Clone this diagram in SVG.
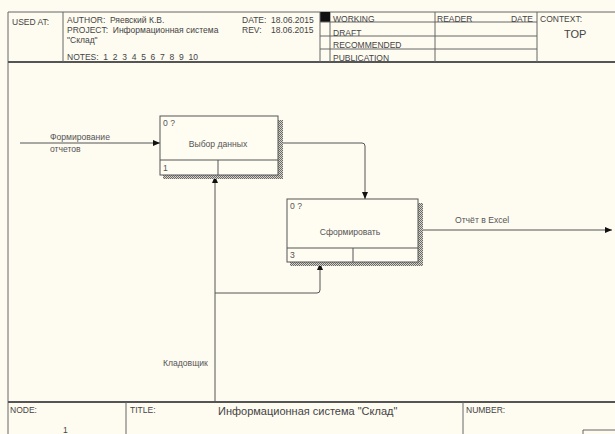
<svg xmlns="http://www.w3.org/2000/svg" width="615" height="434" viewBox="0 0 615 434">
<defs>
<style>
.t{font-family:"Liberation Sans",Arial,sans-serif;font-size:8.6px;fill:#555}
.h{font-family:"Liberation Sans",Arial,sans-serif;font-size:8.5px;fill:#444;white-space:pre}
.fr{stroke:#666;stroke-width:1;fill:none}
.thk{stroke:#555;stroke-width:2;fill:none}
.box{fill:#fffcf2;stroke:#555;stroke-width:1}
.ln{stroke:#555;stroke-width:1;fill:none}
.sh{fill:url(#hatch)}
</style>
<pattern id="hatch" width="2" height="2" patternUnits="userSpaceOnUse">
<rect width="2" height="2" fill="#d8d4c8"/>
<rect width="1" height="1" fill="#6a6a6a"/>
<rect x="1" y="1" width="1" height="1" fill="#6a6a6a"/>
</pattern>
<marker id="ah" markerWidth="7" markerHeight="6" refX="7" refY="3" orient="auto" markerUnits="userSpaceOnUse">
<path d="M0,0 L7,3 L0,6 Z" fill="#111"/>
</marker>
</defs>
<rect width="615" height="434" fill="#fefbf1"/>
<g id="header">
<line class="fr" x1="8" y1="12" x2="615" y2="12"/>
<line class="fr" x1="8" y1="12" x2="8" y2="434"/>
<line class="thk" x1="8" y1="62" x2="615" y2="62"/>
<line class="fr" x1="63" y1="12" x2="63" y2="62"/>
<line class="fr" x1="330" y1="12" x2="330" y2="62"/>
<rect x="320" y="12" width="10" height="10" fill="#111"/>
<line class="fr" x1="435" y1="12" x2="435" y2="62"/>
<line class="fr" x1="537" y1="12" x2="537" y2="62"/>
<line class="fr" x1="320" y1="22" x2="537" y2="22"/>
<line class="fr" x1="320" y1="36" x2="537" y2="36"/>
<line class="fr" x1="320" y1="49" x2="537" y2="49"/>
<line class="fr" x1="320" y1="12" x2="320" y2="62"/>
<text class="h" x="12" y="25">USED AT:</text>
<text class="h" x="67" y="23" xml:space="preserve">AUTHOR:  Ряевский К.В.</text>
<text class="h" x="67" y="33" xml:space="preserve">PROJECT:  Информационная система</text>
<text class="h" x="67" y="43">"Склад"</text>
<text class="h" x="67" y="60" xml:space="preserve">NOTES:  1  2  3  4  5  6  7  8  9  10</text>
<text class="h" x="242" y="23" xml:space="preserve">DATE:  18.06.2015</text>
<text class="h" x="242" y="33" xml:space="preserve">REV:    18.06.2015</text>
<text class="h" x="333" y="22">WORKING</text>
<text class="h" x="333" y="36">DRAFT</text>
<text class="h" x="333" y="48">RECOMMENDED</text>
<text class="h" x="333" y="61">PUBLICATION</text>
<text class="h" x="437" y="22">READER</text>
<text class="h" x="533" y="22" text-anchor="end">DATE</text>
<text class="h" x="540" y="22">CONTEXT:</text>
<text class="h" x="564" y="38" style="font-size:11px">TOP</text>
</g>
<g id="footer">
<line class="thk" x1="8" y1="402" x2="615" y2="402"/>
<line class="fr" x1="126" y1="402" x2="126" y2="434"/>
<line class="fr" x1="463" y1="402" x2="463" y2="434"/>
<path class="fr" d="M583,434 V430 H615"/>
<text class="h" x="10" y="413">NODE:</text>
<text class="h" x="63" y="433">1</text>
<text class="h" x="130" y="413">TITLE:</text>
<text class="h" x="218" y="415" style="font-size:11px">Информационная система "Склад"</text>
<text class="h" x="466" y="413">NUMBER:</text>
</g>
<g id="connectors">
<line class="ln" x1="20" y1="143" x2="160" y2="143" marker-end="url(#ah)"/>
<path class="ln" d="M278,143 H362 Q365,143 365,146 V199" marker-end="url(#ah)"/>
<line class="ln" x1="423" y1="230" x2="612" y2="230" marker-end="url(#ah)"/>
<line class="ln" x1="215" y1="402" x2="215" y2="176" marker-end="url(#ah)"/>
<path class="ln" d="M215,293 H317 Q320,293 320,290 V263" marker-end="url(#ah)"/>
<text class="t" x="50" y="140">Формирование</text>
<text class="t" x="50" y="152">отчетов</text>
<text class="t" x="455" y="223">Отчёт в Excel</text>
<text class="t" x="163" y="366">Кладовщик</text>
</g>
<g id="node1">
<rect class="sh" x="278" y="120" width="5" height="59"/>
<rect class="sh" x="163" y="175" width="120" height="4"/>
<rect class="box" x="160" y="116" width="118" height="59"/>
<line class="ln" x1="160" y1="160" x2="278" y2="160"/>
<line class="ln" x1="218" y1="160" x2="218" y2="175"/>
<text class="t" x="163" y="126">0 ?</text>
<text class="t" x="218" y="147" text-anchor="middle">Выбор данных</text>
<text class="t" x="163" y="171">1</text>
</g>
<g id="node2">
<rect class="sh" x="418" y="203" width="5" height="63"/>
<rect class="sh" x="290" y="262" width="133" height="4"/>
<rect class="box" x="287" y="199" width="131" height="63"/>
<line class="ln" x1="287" y1="248" x2="418" y2="248"/>
<line class="ln" x1="353" y1="248" x2="353" y2="262"/>
<text class="t" x="290" y="209">0 ?</text>
<text class="t" x="350" y="235" text-anchor="middle">Сформировать</text>
<text class="t" x="290" y="258">3</text>
</g>
</svg>
